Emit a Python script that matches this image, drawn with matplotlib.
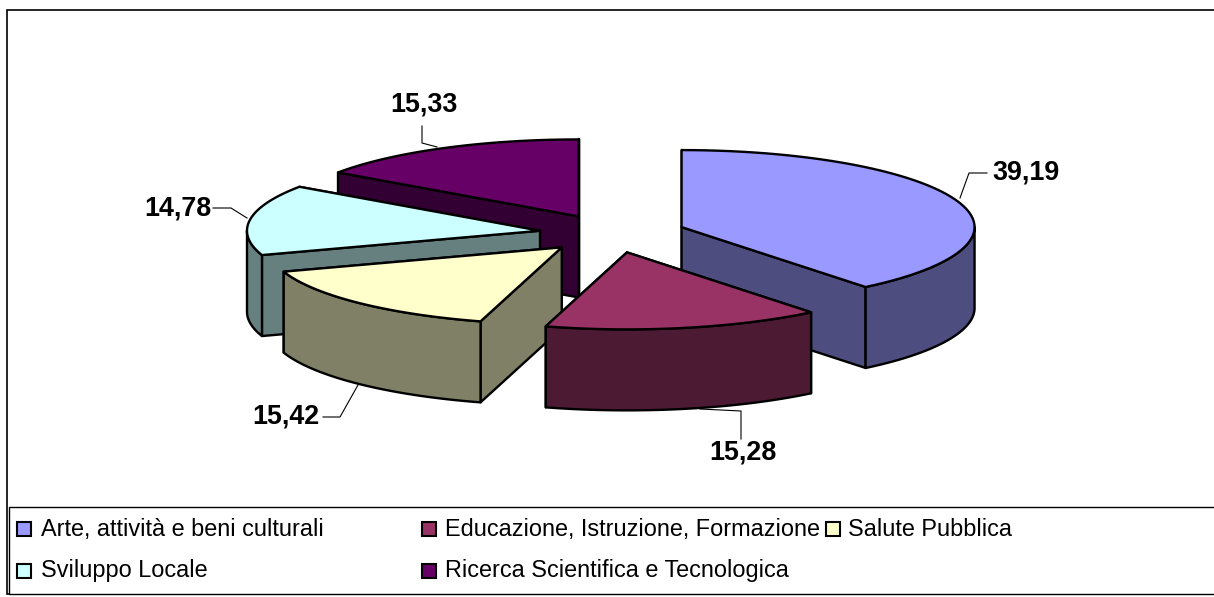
import numpy as np
import matplotlib
matplotlib.use('Agg')
import matplotlib.pyplot as plt
from matplotlib.patches import Polygon, Rectangle

categories = ['Arte, attività e beni culturali', 'Educazione, Istruzione, Formazione',
              'Salute Pubblica', 'Sviluppo Locale', 'Ricerca Scientifica e Tecnologica']
values = [39.19, 15.28, 15.42, 14.78, 15.33]
top_colors = ['#9999FF', '#993366', '#FFFFCC', '#CCFFFF', '#660066']
wall_colors = ['#4D4D80', '#4D1A33', '#808066', '#668080', '#330033']

plt.rcParams['font.family'] = ['Liberation Sans', 'DejaVu Sans']

# pie geometry, in pixels of the figure
cx, cy = 612.5, 233.5
rx, ry = 293, 77
depth = 81
explode = 0.25
edge = 1.7


def rim(a1, a2, x0, y0):
    t = np.radians(np.linspace(a1, a2, 60))
    return np.column_stack([x0 + rx*np.sin(t), y0 - ry*np.cos(t)])


fig = plt.figure(figsize=(12.14, 5.97), dpi=100)
ax = fig.add_axes([0, 0, 1, 1])
ax.set_xlim(0, 1214)
ax.set_ylim(597, 0)
ax.axis('off')

# frames
ax.add_patch(Rectangle((6.5, 10), 1300, 584, fc='white', ec='black', lw=1.2))
ax.add_patch(Rectangle((9, 507), 1300, 87, fc='white', ec='black', lw=1.0))

ends = np.cumsum(values)/sum(values)*360
starts = np.concatenate([[0], ends[:-1]])

# back to front
for i in [4, 3, 0, 2, 1]:
    a1, a2 = starts[i], ends[i]
    mid = np.radians((a1+a2)/2)
    x0 = cx + explode*rx*np.sin(mid)
    y0 = cy - explode*ry*np.cos(mid)

    # cut sides, further one first
    cuts = []
    for a in (a1, a2):
        p = rim(a, a, x0, y0)[0]
        cuts.append(p)
    cuts.sort(key=lambda p: p[1])
    for p in cuts:
        ax.add_patch(Polygon([(x0, y0), p, (p[0], p[1]+depth), (x0, y0+depth)],
                             fc=wall_colors[i], ec='black', lw=edge, joinstyle='round'))

    # outer wall, only the part that faces us
    lo, hi = max(a1, 90), min(a2, 270)
    if hi > lo:
        r = rim(lo, hi, x0, y0)
        low = r[::-1] + [0, depth]
        ax.add_patch(Polygon(np.vstack([r, low]), fc=wall_colors[i], ec='black',
                             lw=edge, joinstyle='round'))

    ax.add_patch(Polygon(np.vstack([[(x0, y0)], rim(a1, a2, x0, y0)]), fc=top_colors[i],
                         ec='black', lw=edge, joinstyle='round'))

# value labels and leader lines
label_x = [992, 777, 320, 212, 390]
label_y = [173, 452, 417, 209, 105]
label_ha = ['left', 'right', 'right', 'right', 'left']
leaders = [[(960, 198), (969, 173), (987, 173)],
           [(741, 439), (741, 411), (700, 409)],
           [(323, 417), (340, 417), (358, 385)],
           [(213, 208), (231, 208), (247, 218)],
           [(422, 126), (422, 143), (437, 147)]]
for i, v in enumerate(values):
    ax.text(label_x[i], label_y[i], f'{v:.2f}'.replace('.', ','), fontsize=19.4, fontweight='bold',
            ha=label_ha[i], va='center', color='black')
    xs, ys = zip(*leaders[i])
    ax.plot(xs, ys, color='black', lw=0.8)

# legend
swatch_x = [17, 422, 826, 17, 422]
text_x = [41, 445, 848, 41, 445]
row_y = [529, 529, 529, 571, 571]
baseline = [536, 536, 536, 577, 577]
for i, name in enumerate(categories):
    ax.add_patch(Rectangle((swatch_x[i], row_y[i]-7), 14, 14, fc=top_colors[i], ec='black', lw=1.5))
    ax.text(text_x[i], baseline[i], name, fontsize=16.9, ha='left', va='baseline', color='black')

fig.savefig('out.png', dpi=100)
